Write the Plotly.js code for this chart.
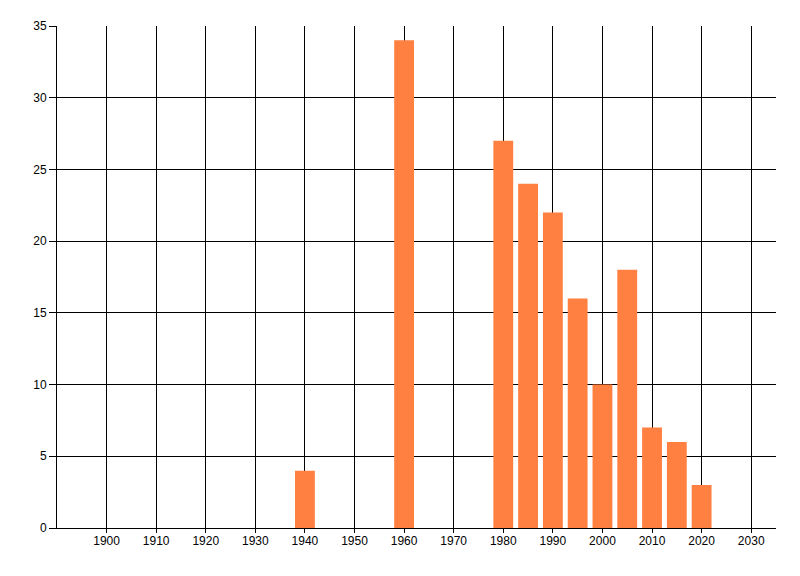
<!DOCTYPE html>
<html>
<head>
<meta charset="utf-8">
<script src="https://cdn.plot.ly/plotly-3.0.1.min.js"></script>
<style>html,body{margin:0;padding:0;background:#fff;}#chart{width:800px;height:576px;}</style>
</head>
<body>
<div id="chart"></div>
<script>
var years = [1940, 1960, 1980, 1985, 1990, 1995, 2000, 2005, 2010, 2015, 2020];
var counts = [4, 34, 27, 24, 22, 16, 10, 18, 7, 6, 3];
var xTicks = [1900, 1910, 1920, 1930, 1940, 1950, 1960, 1970, 1980, 1990, 2000, 2010, 2020, 2030];
var yTicks = [0, 5, 10, 15, 20, 25, 30, 35];

var trace = {
  type: 'bar',
  x: years,
  y: counts,
  width: 4,
  marker: {color: 'rgb(255,128,64)', line: {width: 0}},
  hoverinfo: 'x+y'
};

var layout = {
  width: 800,
  height: 576,
  margin: {l: 57, r: 24, t: 26, b: 48, pad: 0},
  paper_bgcolor: '#ffffff',
  plot_bgcolor: '#ffffff',
  showlegend: false,
  font: {family: 'Liberation Sans, Arial, sans-serif', size: 12, color: '#000000'},
  xaxis: {
    range: [1890, 2035],
    tickvals: xTicks,
    ticktext: xTicks.map(String),
    showgrid: true,
    gridcolor: '#000000',
    gridwidth: 1,
    showline: true,
    linecolor: '#000000',
    linewidth: 1,
    ticks: 'outside',
    ticklen: 4,
    tickcolor: '#000000',
    ticklabelstandoff: -2,
    zeroline: false,
    fixedrange: true
  },
  yaxis: {
    range: [0, 35],
    tickvals: yTicks,
    ticktext: yTicks.map(String),
    showgrid: true,
    gridcolor: '#000000',
    gridwidth: 1,
    showline: true,
    linecolor: '#000000',
    linewidth: 1,
    ticks: 'outside',
    ticklen: 7,
    tickcolor: '#000000',
    zeroline: false,
    fixedrange: true
  }
};

Plotly.newPlot('chart', [trace], layout, {displayModeBar: false, staticPlot: true});
</script>
</body>
</html>
